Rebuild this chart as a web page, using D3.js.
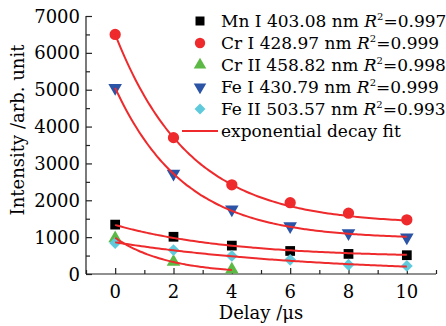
<!DOCTYPE html>
<html>
<head>
<meta charset="utf-8">
<script src="https://cdn.jsdelivr.net/npm/d3@7"></script>
<style>
  body { margin: 0; background: #fff; }
  text { font-family: "DejaVu Serif", serif; fill: #000; }
</style>
</head>
<body>
<div id="chart"></div>
<script>
// delay values (μs)
var delays = [0, 2, 4, 6, 8, 10];
var delaysCrII = [0, 2, 4];

// measured intensities
var mnI = [1340, 1010, 770, 625, 545, 510];
var crI = [6500, 3700, 2420, 1935, 1650, 1470];
var crII = [970, 330, 120];
var feI = [5050, 2720, 1755, 1300, 1105, 995];
var feII = [840, 650, 490, 385, 250, 220];

// fit parameters y0 + A*exp(-x/t)
var fitY0 = [450, 1350, 0, 950, 0];
var fitA = [880, 5150, 980, 4100, 860];
var fitT = [3.93, 2.55, 1.81, 2.38, 6.85];

var names = ["Mn I 403.08 nm ", "Cr I 428.97 nm ", "Cr II 458.82 nm ", "Fe I 430.79 nm ", "Fe II 503.57 nm "];
var r2 = ["0.997", "0.999", "0.998", "0.999", "0.993"];
var colors = ["#000000", "#ee2a2c", "#5cb946", "#2b53a6", "#5fcadb"];
var shapes = [d3.symbolSquare, d3.symbolCircle, d3.symbolTriangle, d3.symbolTriangle, d3.symbolSquare];
var sizes = [95, 100, 80, 80, 70];
var rots = [0, 0, 0, 180, 45];
var xTicks = [0, 2, 4, 6, 8, 10];
var yTicks = [0, 1000, 2000, 3000, 4000, 5000, 6000, 7000];

var series = [
  {x: delays, y: mnI},
  {x: delays, y: crI},
  {x: delaysCrII, y: crII},
  {x: delays, y: feI},
  {x: delays, y: feII}
];

var W = 446, H = 326;
var margin = {top: 16, right: 10, bottom: 52, left: 86};

var svg = d3.select("#chart").append("svg")
  .attr("width", W)
  .attr("height", H);

var x = d3.scaleLinear().domain([-1, 11]).range([margin.left, W - margin.right]);
var y = d3.scaleLinear().domain([0, 7000]).range([H - margin.bottom, margin.top]);

// axes, ticks inward
var xAxis = svg.append("g")
  .attr("transform", "translate(0," + y(0) + ")")
  .call(d3.axisBottom(x).tickValues(d3.range(-1, 12, 1)).tickSize(-5).tickFormat(""));
xAxis.selectAll(".tick line").attr("y2", d => d % 2 == 0 ? -6 : -4);
xAxis.select(".domain").attr("d", "M" + x(-1) + ",0H" + x(11));

svg.append("g").selectAll("text")
  .data(xTicks)
  .enter().append("text")
    .attr("x", d => x(d))
    .attr("y", y(0) + 24)
    .attr("text-anchor", "middle")
    .attr("font-size", 18)
    .text(d => d);

var yAxis = svg.append("g")
  .attr("transform", "translate(" + x(-1) + ",0)")
  .call(d3.axisLeft(y).tickValues(d3.range(0, 7001, 500)).tickSize(-5).tickFormat(""));
yAxis.selectAll(".tick line").attr("x2", d => d % 1000 == 0 ? 6 : 4);
yAxis.select(".domain").attr("d", "M0," + y(0) + "V" + y(7000));

svg.append("g").selectAll("text")
  .data(yTicks)
  .enter().append("text")
    .attr("x", x(-1) - 6)
    .attr("y", d => y(d) + 6.5)
    .attr("text-anchor", "end")
    .attr("font-size", 18)
    .text(d => d);

svg.selectAll(".domain, .tick line").attr("stroke", "#222").attr("stroke-width", 1.2);

// axis titles
svg.append("text")
  .attr("transform", "translate(24," + 130 + ") rotate(-90)")
  .attr("text-anchor", "middle")
  .attr("font-size", 18)
  .text("Intensity /arb. unit");

svg.append("text")
  .attr("x", (x(-1) + x(11)) / 2)
  .attr("y", 319)
  .attr("text-anchor", "middle")
  .attr("font-size", 18)
  .text("Delay /μs");

// markers
series.forEach(function(s, i) {
  svg.append("g").selectAll("path")
    .data(s.x.map((v, j) => [v, s.y[j]]))
    .enter().append("path")
      .attr("d", d3.symbol().type(shapes[i]).size(sizes[i]))
      .attr("transform", d => "translate(" + x(d[0]) + "," + y(d[1]) + ") rotate(" + rots[i] + ")")
      .attr("fill", colors[i]);
});

// fits
var line = d3.line().x(d => x(d[0])).y(d => y(d[1])).curve(d3.curveBasis);
series.forEach(function(s, i) {
  var xmax = d3.max(s.x);
  var pts = d3.range(0, xmax + 0.001, 0.1).map(v => [v, fitY0[i] + fitA[i] * Math.exp(-v / fitT[i])]);
  svg.append("path")
    .attr("d", line(pts))
    .attr("fill", "none")
    .attr("stroke", "#ee2a2c")
    .attr("stroke-width", 2);
});

// legend
var lx = 200, ly = 21, step = 22;
var leg = svg.append("g");
names.forEach(function(n, i) {
  leg.append("path")
    .attr("d", d3.symbol().type(shapes[i]).size(sizes[i] * 0.85))
    .attr("transform", "translate(" + lx + "," + (ly + i * step) + ") rotate(" + rots[i] + ")")
    .attr("fill", colors[i]);
  var t = leg.append("text")
    .attr("x", lx + 21)
    .attr("y", ly + i * step + 6)
    .attr("font-size", 17);
  t.append("tspan").text(n);
  t.append("tspan").attr("font-style", "italic").text("R");
  t.append("tspan").attr("font-size", 10).attr("dy", -7).text("2");
  t.append("tspan").attr("dy", 7).text("=" + r2[i]);
});
leg.append("line")
  .attr("x1", 182).attr("x2", 218)
  .attr("y1", ly + 5 * step).attr("y2", ly + 5 * step)
  .attr("stroke", "#ee2a2c").attr("stroke-width", 2);
leg.append("text")
  .attr("x", lx + 21)
  .attr("y", ly + 5 * step + 6)
  .attr("font-size", 17)
  .text("exponential decay fit");
</script>
</body>
</html>
